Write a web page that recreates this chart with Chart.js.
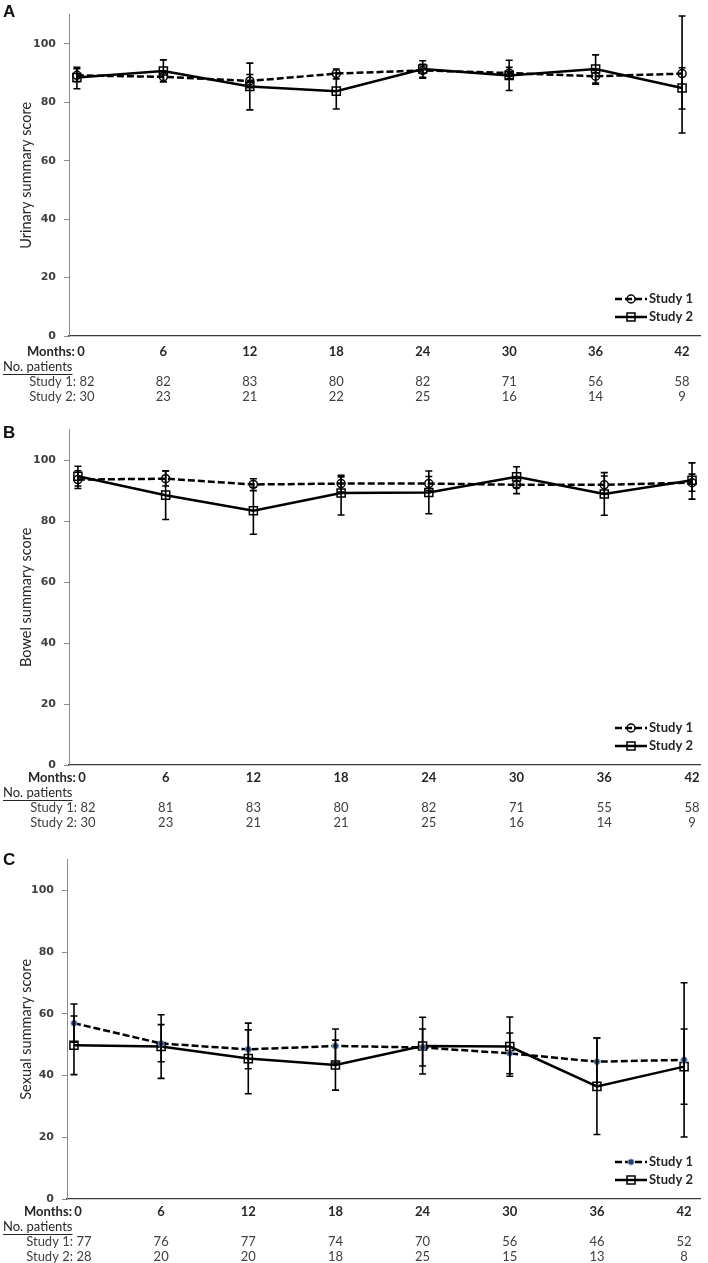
<!DOCTYPE html>
<html>
<head>
<meta charset="utf-8">
<script src="https://cdn.jsdelivr.net/npm/chart.js@4.4.0/dist/chart.umd.min.js"></script>
<style>
  body { margin: 0; background: #fff; width: 708px; height: 1263px; position: relative; overflow: hidden; }
  canvas { position: absolute; left: 0; }
  .letra { position: absolute; left: 3px; font: bold 17px "Liberation Sans", Arial, sans-serif; color: #111; }
</style>
</head>
<body>
<canvas id="graficoA" width="708" height="415" style="top:0px"></canvas>
<canvas id="graficoB" width="708" height="430" style="top:415px"></canvas>
<canvas id="graficoC" width="708" height="418" style="top:845px"></canvas>
<div class="letra" style="top:2px">A</div>
<div class="letra" style="top:423px">B</div>
<div class="letra" style="top:850px">C</div>

<script>
var meses = [0, 6, 12, 18, 24, 30, 36, 42];

// A - urinary
var urinario1 = [89.2, 88.7, 87.3, 89.8, 90.9, 90.0, 88.9, 89.8];
var urinario1Baixo = [87.0, 87.0, 85.0, 88.0, 88.5, 88.0, 86.2, 77.7];
var urinario1Alto = [91.5, 90.5, 89.5, 91.4, 93.0, 92.0, 91.0, 91.8];
var urinario2 = [88.5, 90.7, 85.4, 83.8, 91.4, 89.2, 91.4, 84.9];
var urinario2Baixo = [84.6, 87.0, 77.4, 77.7, 88.2, 84.0, 86.6, 69.5];
var urinario2Alto = [92.0, 94.5, 93.4, 90.0, 94.2, 94.4, 96.2, 109.5];
var pacientesUrinario1 = [82, 82, 83, 80, 82, 71, 56, 58];
var pacientesUrinario2 = [30, 23, 21, 22, 25, 16, 14, 9];

// B - bowel
var intestino1 = [93.6, 93.9, 92.0, 92.3, 92.3, 91.9, 91.9, 92.6];
var intestino1Baixo = [90.7, 91.5, 90.0, 89.5, 90.0, 89.0, 89.0, 89.8];
var intestino1Alto = [96.5, 96.4, 93.9, 95.0, 94.6, 94.0, 94.8, 95.4];
var intestino2 = [94.7, 88.5, 83.4, 89.2, 89.4, 94.5, 88.9, 93.4];
var intestino2Baixo = [91.5, 80.5, 75.7, 82.0, 82.4, 91.0, 81.9, 87.2];
var intestino2Alto = [98.0, 96.5, 91.1, 94.5, 96.4, 97.8, 95.9, 99.1];
var pacientesIntestino1 = [82, 81, 83, 80, 82, 71, 55, 58];
var pacientesIntestino2 = [30, 23, 21, 21, 25, 16, 14, 9];

// C - sexual
var sexual1 = [57.0, 50.4, 48.5, 49.6, 49.1, 47.2, 44.5, 45.1];
var sexual1Baixo = [50.8, 44.5, 42.2, 44.1, 43.1, 40.6, 36.8, 20.1];
var sexual1Alto = [63.2, 56.5, 54.8, 55.1, 55.1, 53.8, 52.2, 70.1];
var sexual2 = [49.8, 49.4, 45.5, 43.4, 49.6, 49.4, 36.5, 42.9];
var sexual2Baixo = [40.3, 39.1, 34.1, 35.3, 40.5, 39.8, 20.9, 30.7];
var sexual2Alto = [59.3, 59.7, 57.0, 51.5, 58.9, 59.0, 52.2, 55.1];
var pacientesSexual1 = [77, 76, 77, 74, 70, 56, 46, 52];
var pacientesSexual2 = [28, 20, 20, 18, 25, 15, 13, 8];

var corTexto = '#262626';
var corNumeros = '#404040';

function desenharMarca(ctx, tipo, px, py) {
  ctx.save();
  ctx.setLineDash([]);
  if (tipo === 'circulo') {
    ctx.strokeStyle = '#000'; ctx.lineWidth = 1.5;
    ctx.beginPath(); ctx.arc(px, py, 4, 0, Math.PI * 2); ctx.stroke();
  } else if (tipo === 'quadrado') {
    ctx.strokeStyle = '#000'; ctx.lineWidth = 1.5;
    ctx.strokeRect(px - 4, py - 4, 8, 8);
  } else {
    ctx.fillStyle = '#243f6b'; ctx.strokeStyle = '#7a9cc9'; ctx.lineWidth = 1;
    ctx.beginPath(); ctx.arc(px, py, 3, 0, Math.PI * 2); ctx.fill(); ctx.stroke();
  }
  ctx.restore();
}

function desenharErros(chart, cfg) {
  var ctx = chart.ctx, x = chart.scales.x, y = chart.scales.y;
  ctx.save();
  ctx.strokeStyle = '#000';
  ctx.lineWidth = 1.6;
  [[cfg.baixo1, cfg.alto1], [cfg.baixo2, cfg.alto2]].forEach(function (par) {
    meses.forEach(function (m, i) {
      var px = x.getPixelForValue(m);
      var y0 = y.getPixelForValue(par[0][i]);
      var y1 = Math.max(y.getPixelForValue(par[1][i]), chart.chartArea.top);
      ctx.beginPath();
      ctx.moveTo(px, y0); ctx.lineTo(px, y1);
      ctx.moveTo(px - 3.5, y0); ctx.lineTo(px + 3.5, y0);
      ctx.moveTo(px - 3.5, y1); ctx.lineTo(px + 3.5, y1);
      ctx.stroke();
    });
  });
  ctx.restore();
}

function desenharLegenda(chart, cfg) {
  var ctx = chart.ctx, a = chart.chartArea;
  var itens = [
    { texto: 'Study 1', dy: -37, traco: [7, 3], marca: cfg.marca1 },
    { texto: 'Study 2', dy: -19, traco: [], marca: 'quadrado' }
  ];
  ctx.save();
  itens.forEach(function (it) {
    var py = a.bottom + it.dy;
    ctx.strokeStyle = '#000';
    ctx.lineWidth = 2.5;
    ctx.setLineDash(it.traco);
    ctx.beginPath(); ctx.moveTo(615, py); ctx.lineTo(647, py); ctx.stroke();
    desenharMarca(ctx, it.marca, 631, py);
    ctx.fillStyle = corTexto;
    ctx.font = 'bold 13px Lato';
    ctx.textAlign = 'left';
    ctx.textBaseline = 'middle';
    ctx.fillText(it.texto, 649, py);
  });
  ctx.restore();
}

function desenharTabela(chart, cfg) {
  var ctx = chart.ctx, x = chart.scales.x;
  var base = chart.chartArea.bottom + cfg.linha1;
  var x0 = x.getPixelForValue(meses[0]);
  ctx.save();
  ctx.textBaseline = 'middle';
  ctx.fillStyle = corTexto;
  ctx.font = 'bold 13px Lato';
  ctx.textAlign = 'right';
  ctx.fillText('Months:', x0 - 2, base);
  ctx.textAlign = 'center';
  meses.forEach(function (m, i) {
    ctx.fillText(String(m), x.getPixelForValue(m) + (i === 0 ? 4 : 0), base);
  });

  ctx.font = '13px Lato';
  ctx.textAlign = 'left';
  ctx.fillText('No. patients', 3, base + 15);
  var w = ctx.measureText('No. patients').width;
  ctx.fillRect(3, base + 15 + 7, w, 1);

  [['Study 1:', cfg.pacientes1], ['Study 2:', cfg.pacientes2]].forEach(function (linha, k) {
    var py = base + 30 + k * 15;
    ctx.fillStyle = corNumeros;
    ctx.textAlign = 'right';
    ctx.fillText(linha[0], x0 - 1, py);
    ctx.textAlign = 'center';
    meses.forEach(function (m, i) {
      var px = x.getPixelForValue(m) + (i === 0 ? 10 : 0);
      ctx.fillText(String(linha[1][i]), px, py);
    });
  });
  ctx.restore();
}

function GraficoPainel(id, cfg) {
  var ctx = document.getElementById(id).getContext('2d');
  var pontos1 = meses.map(function (m, i) { return { x: m, y: cfg.estudo1[i] }; });
  var pontos2 = meses.map(function (m, i) { return { x: m, y: cfg.estudo2[i] }; });
  var ponto1 = cfg.marca1 === 'ponto'
    ? { pointStyle: 'circle', pointRadius: 3, pointBackgroundColor: '#243f6b', pointBorderColor: '#7a9cc9', pointBorderWidth: 1 }
    : { pointStyle: 'circle', pointRadius: 4, pointBackgroundColor: 'rgba(0,0,0,0)', pointBorderColor: '#000', pointBorderWidth: 1.5 };

  return new Chart(ctx, {
    type: 'line',
    data: {
      datasets: [
        Object.assign({
          label: 'Study 1',
          data: pontos1,
          borderColor: '#000',
          borderWidth: 2.5,
          borderDash: [7, 3],
          tension: 0
        }, ponto1),
        {
          label: 'Study 2',
          data: pontos2,
          borderColor: '#000',
          borderWidth: 2.5,
          tension: 0,
          pointStyle: 'rect',
          pointRadius: 5.7,
          pointBackgroundColor: 'rgba(0,0,0,0)',
          pointBorderColor: '#000',
          pointBorderWidth: 1.5
        }
      ]
    },
    options: {
      responsive: false,
      animation: false,
      events: [],
      layout: { padding: { top: cfg.topo, left: 0, right: 0, bottom: 0 } },
      plugins: {
        legend: { display: false },
        tooltip: { enabled: false }
      },
      scales: {
        x: {
          type: 'linear',
          min: cfg.xMin,
          max: cfg.xMax,
          afterBuildTicks: function (s) { s.ticks = meses.map(function (m) { return { value: m }; }); },
          ticks: { display: false },
          grid: { display: false, drawTicks: false },
          border: { color: '#3a3a3a', width: 1.3 },
          afterFit: function (s) { s.height = cfg.alturaBaixo; }
        },
        y: {
          min: 0,
          max: 110,
          afterBuildTicks: function (s) { s.ticks = s.ticks.filter(function (t) { return t.value <= 100; }); },
          ticks: {
            stepSize: 20,
            color: corNumeros,
            padding: 8,
            font: { family: 'DejaVu Sans', weight: 'bold', size: 11 }
          },
          grid: { display: true, drawOnChartArea: false, drawTicks: true, tickLength: 5, color: '#8c8c8c' },
          border: { color: '#8c8c8c', width: 1 },
          title: {
            display: true,
            text: cfg.titulo,
            color: corTexto,
            font: { family: 'Lato', size: 14.5 },
            padding: { top: 18, bottom: 0 }
          },
          afterFit: function (s) { s.width = cfg.larguraEixo; }
        }
      }
    },
    plugins: [{
      id: 'extras',
      afterDatasetsDraw: function (chart) { desenharErros(chart, cfg); },
      afterDraw: function (chart) {
        desenharLegenda(chart, cfg);
        desenharTabela(chart, cfg);
      }
    }]
  });
}

GraficoPainel('graficoA', {
  titulo: 'Urinary summary score',
  estudo1: urinario1, baixo1: urinario1Baixo, alto1: urinario1Alto,
  estudo2: urinario2, baixo2: urinario2Baixo, alto2: urinario2Alto,
  pacientes1: pacientesUrinario1, pacientes2: pacientesUrinario2,
  marca1: 'circulo',
  topo: 2, alturaBaixo: 79, larguraEixo: 69,
  xMin: -0.55, xMax: 43.3, linha1: 16
});

GraficoPainel('graficoB', {
  titulo: 'Bowel summary score',
  estudo1: intestino1, baixo1: intestino1Baixo, alto1: intestino1Alto,
  estudo2: intestino2, baixo2: intestino2Baixo, alto2: intestino2Alto,
  pacientes1: pacientesIntestino1, pacientes2: pacientesIntestino2,
  marca1: 'circulo',
  topo: 12, alturaBaixo: 80, larguraEixo: 69,
  xMin: -0.61, xMax: 42.6, linha1: 13
});

GraficoPainel('graficoC', {
  titulo: 'Sexual summary score',
  estudo1: sexual1, baixo1: sexual1Baixo, alto1: sexual1Alto,
  estudo2: sexual2, baixo2: sexual2Baixo, alto2: sexual2Alto,
  pacientes1: pacientesSexual1, pacientes2: pacientesSexual2,
  marca1: 'ponto',
  topo: 8, alturaBaixo: 64, larguraEixo: 67,
  xMin: -0.48, xMax: 43.15, linha1: 13
});
</script>
</body>
</html>
